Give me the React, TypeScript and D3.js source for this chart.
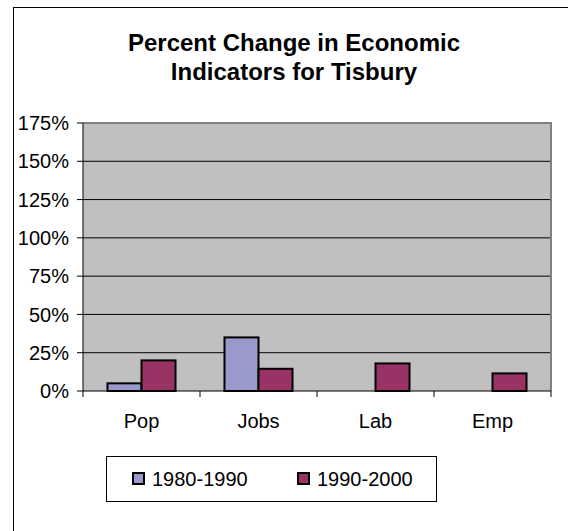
import React from "react";
import * as d3 from "d3";

const categories = ["Pop", "Jobs", "Lab", "Emp"];
const seriesNames = ["1980-1990", "1990-2000"];
const series1980 = [5, 35, 0, 0];
const series1990 = [20, 14.5, 18, 11.5];
const yTicks = [0, 25, 50, 75, 100, 125, 150, 175];
const colors = ["#9999CC", "#993366"];

const W = 568;
const H = 531;
const plot = { left: 83, right: 551, top: 123, bottom: 391 };
const font = "Liberation Sans, Arial, sans-serif";

export default function App() {
  const x = d3
    .scaleBand<string>()
    .domain(categories)
    .range([plot.left, plot.right]);
  const inner = d3
    .scaleBand<string>()
    .domain(seriesNames)
    .range([0, x.bandwidth()])
    .paddingInner(0)
    .paddingOuter(0.72);
  const y = d3.scaleLinear().domain([0, 175]).range([plot.bottom, plot.top]);
  const values = [series1980, series1990];

  return (
    <svg
      width={W}
      height={H}
      style={{ position: "absolute", left: 0, top: 0, background: "#fff" }}
    >
      {/* chart frame */}
      <rect x={13.5} y={7.5} width={W} height={H} fill="#fff" stroke="#000" strokeWidth={1} />

      {/* title */}
      <text x={294} y={51} textAnchor="middle" fontFamily={font} fontWeight="bold" fontSize={24} fill="#000">
        Percent Change in Economic
      </text>
      <text x={294} y={80} textAnchor="middle" fontFamily={font} fontWeight="bold" fontSize={24} fill="#000">
        Indicators for Tisbury
      </text>

      {/* plot area */}
      <rect
        x={plot.left}
        y={plot.top}
        width={plot.right - plot.left}
        height={plot.bottom - plot.top}
        fill="#C0C0C0"
      />
      {yTicks.filter((t) => t > 0).map((t) => (
        <line key={t} x1={plot.left} x2={plot.right} y1={y(t)} y2={y(t)} stroke="#000" strokeWidth={1} />
      ))}
      <path
        d={`M${plot.left},${plot.top}H${plot.right}V${plot.bottom}`}
        fill="none"
        stroke="#808080"
        strokeWidth={2}
      />

      {/* bars */}
      {values.map((vals, si) =>
        categories.map((c, ci) =>
          vals[ci] > 0 ? (
            <rect
              key={`${si}-${ci}`}
              x={(x(c) as number) + (inner(seriesNames[si]) as number)}
              y={y(vals[ci])}
              width={inner.bandwidth()}
              height={y(0) - y(vals[ci])}
              fill={colors[si]}
              stroke="#000"
              strokeWidth={2}
            />
          ) : null
        )
      )}

      {/* axes */}
      <line x1={plot.left} x2={plot.left} y1={plot.top} y2={plot.bottom} stroke="#000" />
      <line x1={plot.left} x2={plot.right} y1={plot.bottom} y2={plot.bottom} stroke="#000" />
      {yTicks.map((t) => (
        <g key={t}>
          <line x1={plot.left - 6} x2={plot.left} y1={y(t)} y2={y(t)} stroke="#000" />
          <text
            x={69}
            y={y(t)}
            dy="0.36em"
            textAnchor="end"
            fontFamily={font}
            fontSize={20}
            fill="#000"
          >
            {t}%
          </text>
        </g>
      ))}
      {categories.map((c, i) => (
        <g key={c}>
          <line
            x1={x(c) as number}
            x2={x(c) as number}
            y1={plot.bottom}
            y2={plot.bottom + 6}
            stroke="#000"
          />
          {i === categories.length - 1 && (
            <line x1={plot.right} x2={plot.right} y1={plot.bottom} y2={plot.bottom + 6} stroke="#000" />
          )}
          <text
            x={(x(c) as number) + x.bandwidth() / 2}
            y={428}
            textAnchor="middle"
            fontFamily={font}
            fontSize={20}
            fill="#000"
          >
            {c}
          </text>
        </g>
      ))}

      {/* legend */}
      <rect x={106.5} y={456.5} width={330} height={45} fill="#fff" stroke="#000" strokeWidth={1} />
      {seriesNames.map((s, i) => {
        const lx = [132, 297][i];
        return (
          <g key={s}>
            <rect x={lx + 1} y={473} width={11} height={11} fill={colors[i]} stroke="#000" strokeWidth={2} />
            <text x={lx + 20} y={486} fontFamily={font} fontSize={20} fill="#000">
              {s}
            </text>
          </g>
        );
      })}
    </svg>
  );
}
